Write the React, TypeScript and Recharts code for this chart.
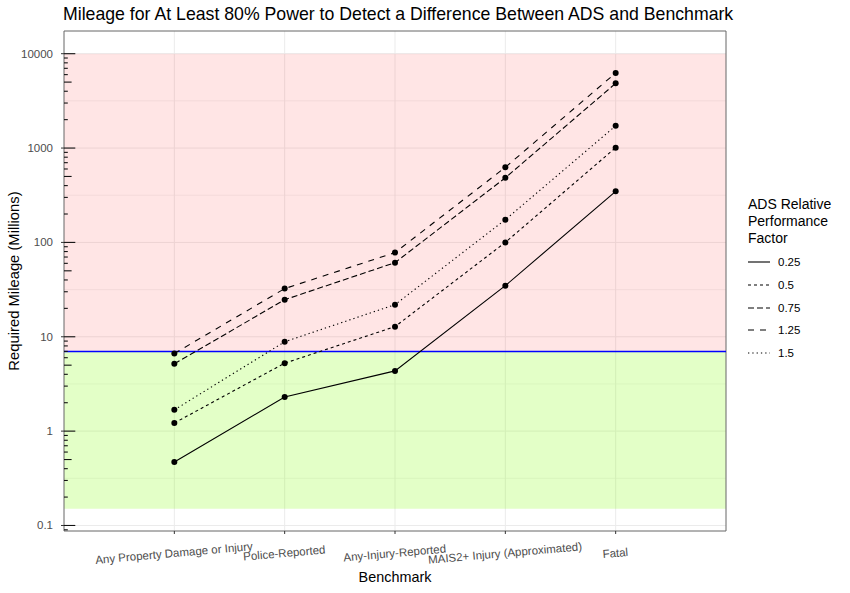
import React from 'react';
import {
  ComposedChart,
  Line,
  XAxis,
  YAxis,
  CartesianGrid,
  ReferenceArea,
  ReferenceLine,
} from 'recharts';

const categories = [
  'Any Property Damage or Injury',
  'Police-Reported',
  'Any-Injury-Reported',
  'MAIS2+ Injury (Approximated)',
  'Fatal',
];

const factorLabels = ['0.25', '0.5', '0.75', '1.25', '1.5'];

const f025 = [0.47, 2.3, 4.35, 34.8, 348];
const f05 = [1.22, 5.25, 12.8, 100, 1010];
const f075 = [5.17, 24.7, 61, 484, 4850];
const f125 = [6.65, 32.4, 78, 625, 6250];
const f15 = [1.68, 8.85, 21.9, 174, 1720];

const yTickLabels = [0.1, 1, 10, 100, 1000, 10000];
const minorGridValues = [0.316, 3.16, 31.6, 316, 3162];
const logTickValues = [
  0.09,
  0.1, 0.2, 0.3, 0.4, 0.5, 0.6, 0.7, 0.8, 0.9,
  1, 2, 3, 4, 5, 6, 7, 8, 9,
  10, 20, 30, 40, 50, 60, 70, 80, 90,
  100, 200, 300, 400, 500, 600, 700, 800, 900,
  1000, 2000, 3000, 4000, 5000, 6000, 7000, 8000, 9000,
  10000,
];

const thresholdValue = 7;
const redTop = 10000;
const greenBottom = 0.15;
const yDomain = [0.0874, 17400];

const seriesKeys = ['f025', 'f05', 'f075', 'f125', 'f15'];
const dashes = [undefined, '3 3', '6 3', '6 6', '1.3 3'];

const data = categories.map((name, i) => ({
  x: i + 1,
  name,
  f025: f025[i],
  f05: f05[i],
  f075: f075[i],
  f125: f125[i],
  f15: f15[i],
}));

const FONT = '"Liberation Sans", Arial, Helvetica, sans-serif';

const isDecade = (v: number) => yTickLabels.some((d) => Math.abs(d - v) < 1e-9);
const isFive = (v: number) => {
  const m = v / Math.pow(10, Math.floor(Math.log10(v) + 1e-9));
  return Math.abs(m - 5) < 1e-6;
};

const Y_TICK_GAP = 11;

const LogTick = (props: any) => {
  const { x, y, payload } = props;
  const v = payload.value;
  const ax = x + Y_TICK_GAP;
  const decade = isDecade(v);
  const len = decade ? 11.3 : isFive(v) ? 7.6 : 3.8;
  return (
    <g>
      {decade && (
        <line x1={ax - 3} x2={ax} y1={y} y2={y} stroke="#333" strokeWidth={1} />
      )}
      <line x1={ax} x2={ax + len} y1={y} y2={y} stroke="#111" strokeWidth={1.1} />
      {decade && (
        <text
          x={x}
          y={y}
          dy={4}
          textAnchor="end"
          fontSize={11.5}
          fill="#4d4d4d"
          fontFamily={FONT}
        >
          {String(v)}
        </text>
      )}
    </g>
  );
};

const CatTick = (props: any) => {
  const { x, y, payload } = props;
  const label = categories[payload.value - 1] ?? '';
  return (
    <g transform={`translate(${x},${y + 21})`}>
      <text
        transform="rotate(-5)"
        textAnchor="middle"
        fontSize={11.5}
        fill="#4d4d4d"
        fontFamily={FONT}
      >
        {label}
      </text>
    </g>
  );
};

const BlueLine = (p: any) => (
  <line
    x1={p.x1}
    y1={Math.round(p.y1) + 0.5}
    x2={p.x2}
    y2={Math.round(p.y2) + 0.5}
    stroke="#0000ff"
    strokeWidth={1.5}
  />
);

const LegendSample = ({ dash }: { dash?: string }) => (
  <svg width={22} height={16} style={{ display: 'block' }}>
    <line x1={0} x2={22} y1={8} y2={8} stroke="#000" strokeWidth={1.1} strokeDasharray={dash} />
  </svg>
);

export default function App() {
  return (
    <div style={{ position: 'absolute', left: 0, top: 0, width: 850, height: 593, background: '#fff', fontFamily: FONT }}>
      <div
        style={{
          position: 'absolute',
          left: 63,
          top: 4,
          fontSize: 17.7,
          lineHeight: '20px',
          color: '#000',
          whiteSpace: 'nowrap',
        }}
      >
        Mileage for At Least 80% Power to Detect a Difference Between ADS and Benchmark
      </div>

      <ComposedChart
        width={850}
        height={593}
        data={data}
        margin={{ top: 31, right: 124, bottom: 0, left: 0 }}
      >
        <CartesianGrid
          stroke="#ebebeb"
          strokeWidth={1}
          horizontalValues={yTickLabels}
          verticalValues={[1, 2, 3, 4, 5]}
        />
        <CartesianGrid
          stroke="#ebebeb"
          strokeWidth={0.6}
          horizontalValues={minorGridValues}
          vertical={false}
        />
        <ReferenceArea
          x1={0}
          x2={6}
          y1={thresholdValue}
          y2={redTop}
          fill="#ff0000"
          fillOpacity={0.1}
          stroke="none"
          ifOverflow="hidden"
        />
        <ReferenceArea
          x1={0}
          x2={6}
          y1={greenBottom}
          y2={thresholdValue}
          fill="#80ff00"
          fillOpacity={0.22}
          stroke="none"
          ifOverflow="hidden"
        />
        <XAxis
          dataKey="x"
          type="number"
          domain={[0, 6]}
          ticks={[1, 2, 3, 4, 5]}
          interval={0}
          height={62}
          tickSize={3}
          tickLine={{ stroke: '#333' }}
          axisLine={false}
          tick={<CatTick />}
          allowDataOverflow
          label={(p: any) => {
            const vb = p.viewBox || {};
            return (
              <text
                x={vb.x + vb.width / 2}
                y={vb.y + 51}
                textAnchor="middle"
                fontSize={14.4}
                fill="#000"
                fontFamily={FONT}
              >
                Benchmark
              </text>
            );
          }}
        />
        <YAxis
          type="number"
          scale="log"
          domain={yDomain}
          allowDataOverflow
          ticks={logTickValues}
          interval={0}
          width={64}
          tickSize={0}
          tickMargin={Y_TICK_GAP}
          tickLine={false}
          axisLine={false}
          tick={<LogTick />}
          label={(p: any) => {
            const vb = p.viewBox || {};
            const cx = vb.x + 19;
            const cy = vb.y + vb.height / 2;
            return (
              <text
                x={cx}
                y={cy}
                transform={`rotate(-90, ${cx}, ${cy})`}
                textAnchor="middle"
                fontSize={14.8}
                fill="#000"
                fontFamily={FONT}
              >
                Required Mileage (Millions)
              </text>
            );
          }}
        />
        <ReferenceLine y={thresholdValue} stroke="#0000ff" shape={BlueLine} />
        {seriesKeys.map((k, i) => (
          <Line
            key={k}
            dataKey={k}
            type="linear"
            stroke="#000"
            strokeWidth={1.1}
            strokeDasharray={dashes[i]}
            dot={{ r: 3, fill: '#000', stroke: 'none' }}
            activeDot={false}
            isAnimationActive={false}
          />
        ))}
        <ReferenceArea
          x1={0}
          x2={6}
          y1={yDomain[0]}
          y2={yDomain[1]}
          fill="none"
          stroke="#666"
          strokeWidth={1}
          ifOverflow="extendDomain"
        />
      </ComposedChart>

      <div
        style={{
          position: 'absolute',
          left: 748,
          top: 196,
          fontSize: 14,
          lineHeight: '17px',
          color: '#000',
        }}
      >
        ADS Relative
        <br />
        Performance
        <br />
        Factor
      </div>
      {factorLabels.map((lab, i) => (
        <div
          key={lab}
          style={{
            position: 'absolute',
            left: 748,
            top: 254 + i * 22.75,
            height: 16,
            display: 'flex',
            alignItems: 'center',
          }}
        >
          <LegendSample dash={dashes[i]} />
          <span style={{ marginLeft: 8, fontSize: 11.5, color: '#000' }}>{lab}</span>
        </div>
      ))}
    </div>
  );
}
